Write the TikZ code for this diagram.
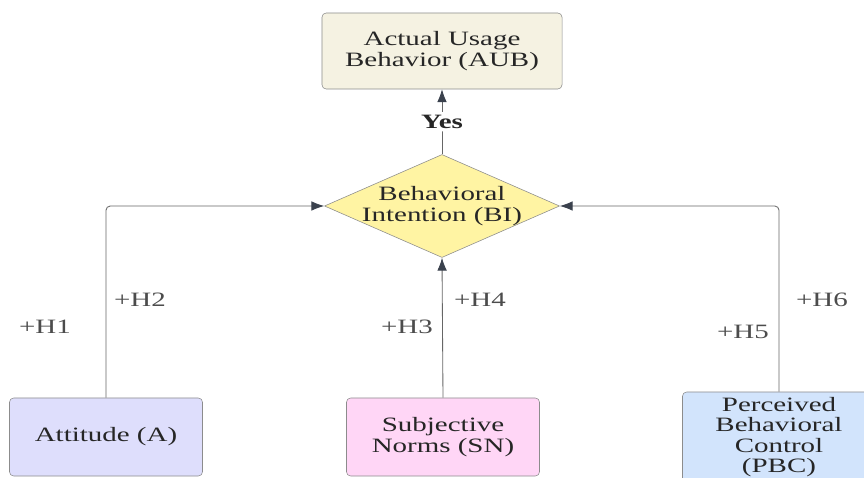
\documentclass[tikz,border=0pt]{standalone}
\usepackage{fontspec}
\setmainfont{Liberation Serif}[FakeStretch=1.42]
\usetikzlibrary{shapes.geometric, arrows.meta}
\definecolor{boxline}{HTML}{8C8C8C}
\definecolor{tipcol}{HTML}{3A414D}
\definecolor{aubfill}{HTML}{F5F2E2}
\definecolor{bifill}{HTML}{FFF4A3}
\definecolor{afill}{HTML}{DEDEFC}
\definecolor{snfill}{HTML}{FFD6F6}
\definecolor{pbcfill}{HTML}{D2E4FC}
\tikzstyle{construct} = [rectangle, rounded corners=3pt, draw=boxline, minimum width=4.825cm, minimum height=1.95cm, text centered, align=center, text=black!85]
\tikzstyle{decision} = [diamond, draw=boxline, aspect=2.28, minimum width=5.875cm, minimum height=2.575cm, inner sep=-3pt, align=center, fill=bifill, text=black!85]
\tikzstyle{hyp} = [text=black!70]
\tikzstyle{arrow} = [draw=black!60, line width=0.6pt, rounded corners=3pt, -{Latex[length=3.2mm, width=2.4mm, color=tipcol]}]

\begin{document}
\begin{tikzpicture}[x=0.025cm, y=-0.025cm, font=\fontsize{14.5}{15}\selectfont]
    \useasboundingbox (0,0) rectangle (864,478);
    \node [construct, fill=aubfill, minimum width=6cm, minimum height=1.9cm] at (442,51) (aub) {Actual Usage\\Behavior (AUB)};
    \node [decision] at (442,206) (bi) {Behavioral\\Intention (BI)};
    \node [construct, fill=afill] at (106,437) (att) {Attitude (A)};
    \node [construct, fill=snfill] at (443,437) (sn) {Subjective\\Norms (SN)};
    \node [construct, fill=pbcfill, minimum height=2.3cm] at (779,438) (pbc) {};
    \node [text=black!85, align=center, font=\fontsize{14.5}{14.6}\selectfont] at (779,437) (pbctext) {Perceived\\Behavioral\\Control\\(PBC)};
    \draw [arrow] (bi.north) -- node[fill=white, inner sep=2pt, font=\fontsize{14.5}{15}\selectfont\bfseries, text=black!85] (yes) {Yes} (aub.south);
    \draw [arrow] (att.north) |- (bi.west);
    \draw [arrow] (sn.north) -- (bi.south);
    \draw [arrow] (pbc.north) |- (bi.east);
    \node [hyp] at (45,327) (h1) {+H1};
    \node [hyp] at (140,300) (h2) {+H2};
    \node [hyp] at (407,327) (h3) {+H3};
    \node [hyp] at (480,300) (h4) {+H4};
    \node [hyp] at (743,332) (h5) {+H5};
    \node [hyp] at (822,300) (h6) {+H6};
    \end{tikzpicture}
\end{document}
